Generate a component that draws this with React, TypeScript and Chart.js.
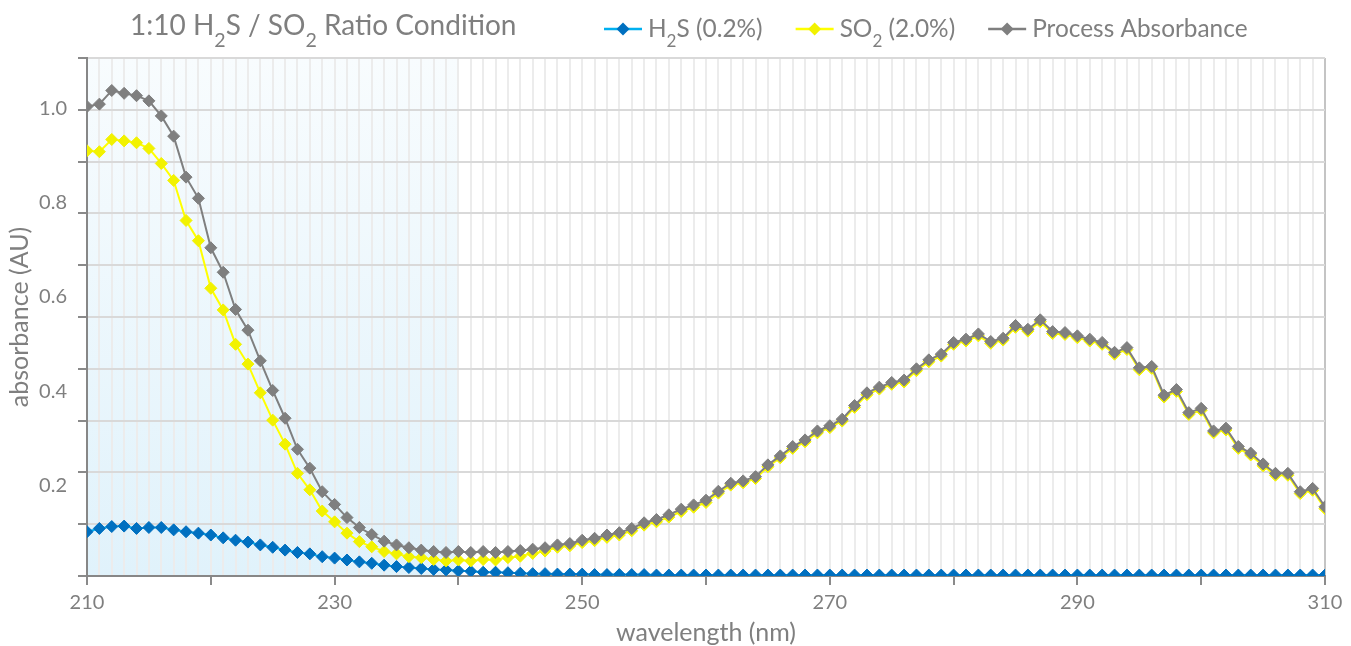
import React, { useEffect, useRef } from 'react';
import { Chart, registerables } from 'chart.js';

Chart.register(...registerables);

// ---------- data ----------
const wavelengths: number[] = Array.from({ length: 101 }, (_, i) => 210 + i);

const h2s: number[] = [
  0.094, 0.101, 0.105, 0.106, 0.101, 0.103, 0.103, 0.098, 0.094, 0.091,
  0.087, 0.081, 0.076, 0.072, 0.066, 0.061, 0.055, 0.050, 0.047, 0.041,
  0.038, 0.034, 0.030, 0.027, 0.023, 0.020, 0.018, 0.016, 0.014, 0.013,
  0.011, 0.010, 0.008, 0.008, 0.007, 0.006, 0.005, 0.005, 0.004, 0.004,
  0.004, 0.003, 0.003, 0.003, 0.003, 0.003, 0.002, 0.002, 0.002, 0.002,
  0.002, 0.002, 0.002, 0.002, 0.002, 0.002, 0.002, 0.002, 0.002, 0.002,
  0.002, 0.002, 0.002, 0.002, 0.002, 0.002, 0.002, 0.002, 0.002, 0.002,
  0.002, 0.002, 0.002, 0.002, 0.002, 0.002, 0.002, 0.002, 0.002, 0.002,
  0.002, 0.002, 0.002, 0.002, 0.002, 0.002, 0.002, 0.002, 0.002, 0.002,
  0.002, 0.002, 0.002, 0.002, 0.002, 0.002, 0.002, 0.002, 0.002, 0.002,
  0.002,
];

const so2: number[] = [
  0.903, 0.901, 0.927, 0.924, 0.920, 0.908, 0.876, 0.840, 0.755, 0.712,
  0.611, 0.565, 0.492, 0.450, 0.389, 0.331, 0.280, 0.218, 0.183, 0.138,
  0.115, 0.091, 0.073, 0.062, 0.052, 0.047, 0.041, 0.039, 0.035, 0.032,
  0.034, 0.032, 0.035, 0.034, 0.039, 0.042, 0.048, 0.053, 0.061, 0.064,
  0.071, 0.075, 0.082, 0.087, 0.096, 0.108, 0.115, 0.125, 0.137, 0.146,
  0.156, 0.176, 0.193, 0.198, 0.207, 0.232, 0.251, 0.271, 0.285, 0.304,
  0.315, 0.329, 0.358, 0.385, 0.397, 0.407, 0.412, 0.436, 0.455, 0.467,
  0.492, 0.499, 0.510, 0.494, 0.501, 0.528, 0.520, 0.540, 0.515, 0.513,
  0.506, 0.499, 0.492, 0.471, 0.481, 0.438, 0.441, 0.380, 0.392, 0.343,
  0.352, 0.304, 0.310, 0.271, 0.257, 0.234, 0.214, 0.214, 0.175, 0.182,
  0.143,
];

const processAbs: number[] = [
  0.997, 1.002, 1.031, 1.025, 1.020, 1.009, 0.977, 0.934, 0.847, 0.802,
  0.697, 0.645, 0.566, 0.522, 0.457, 0.394, 0.335, 0.269, 0.229, 0.179,
  0.152, 0.124, 0.103, 0.088, 0.074, 0.066, 0.060, 0.055, 0.052, 0.050,
  0.052, 0.050, 0.052, 0.050, 0.052, 0.054, 0.057, 0.060, 0.066, 0.069,
  0.076, 0.080, 0.087, 0.092, 0.101, 0.113, 0.120, 0.130, 0.142, 0.151,
  0.161, 0.180, 0.197, 0.202, 0.211, 0.236, 0.255, 0.275, 0.289, 0.308,
  0.319, 0.333, 0.362, 0.389, 0.401, 0.411, 0.416, 0.440, 0.459, 0.471,
  0.496, 0.503, 0.514, 0.498, 0.505, 0.532, 0.524, 0.544, 0.519, 0.517,
  0.510, 0.503, 0.496, 0.475, 0.485, 0.442, 0.445, 0.384, 0.396, 0.347,
  0.356, 0.308, 0.314, 0.275, 0.261, 0.238, 0.218, 0.218, 0.179, 0.186,
  0.147,
];

const xTickLabels: number[] = [210, 230, 250, 270, 290, 310];
const xTickMarks: number[] = [210, 220, 230, 240, 250, 260, 270, 280, 290, 300, 310];
const yTickLabels: number[] = [0.2, 0.4, 0.6, 0.8, 1.0];
const yGridLines: number[] = [0, 0.11, 0.22, 0.33, 0.44, 0.55, 0.66, 0.77, 0.88, 0.99, 1.1];
const shadeRange: number[] = [210, 240];

type Part = [string, boolean];
const titleParts: Part[] = [['1:10 H', false], ['2', true], ['S / SO', false], ['2', true], [' Ratio Condition', false]];
const legendParts: Part[][] = [
  [['H', false], ['2', true], ['S (0.2%)', false]],
  [['SO', false], ['2', true], [' (2.0%)', false]],
  [['Process Absorbance', false]],
];

const FONT = "Lato, 'Open Sans', sans-serif";
const TEXT = '#7f7f7f';
const CLEAR = 'rgba(0,0,0,0)';

function drawRich(ctx: CanvasRenderingContext2D, parts: Part[], x: number, y: number, size: number) {
  let cx = x;
  ctx.textAlign = 'left';
  ctx.textBaseline = 'alphabetic';
  ctx.fillStyle = TEXT;
  for (const [t, sub] of parts) {
    const fs = sub ? size * 0.7 : size;
    ctx.font = `${fs}px ${FONT}`;
    ctx.fillText(t, cx, sub ? y + size * 0.43 : y);
    cx += ctx.measureText(t).width;
  }
  return cx;
}

function diamond(ctx: CanvasRenderingContext2D, x: number, y: number, r: number, color: string) {
  ctx.beginPath();
  ctx.moveTo(x - r, y);
  ctx.lineTo(x, y - r);
  ctx.lineTo(x + r, y);
  ctx.lineTo(x, y + r);
  ctx.closePath();
  ctx.fillStyle = color;
  ctx.fill();
}

const shadePlugin = {
  id: 'shade',
  beforeDraw(chart: any) {
    const { ctx, chartArea, scales } = chart;
    const x0 = scales.x.getPixelForValue(shadeRange[0]);
    const x1 = scales.x.getPixelForValue(shadeRange[1]);
    const g = ctx.createLinearGradient(0, chartArea.top, 0, chartArea.bottom);
    g.addColorStop(0, '#f8fcfe');
    g.addColorStop(1, '#e0f2fb');
    ctx.save();
    ctx.fillStyle = g;
    ctx.fillRect(x0, chartArea.top, x1 - x0, chartArea.bottom - chartArea.top);
    ctx.restore();
  },
};

const headerPlugin = {
  id: 'header',
  afterDraw(chart: any) {
    const ctx: CanvasRenderingContext2D = chart.ctx;
    ctx.save();
    drawRich(ctx, titleParts, 130, 35, 28);
    let x = 604;
    const ly = 29;
    chart.data.datasets.forEach((ds: any, i: number) => {
      ctx.strokeStyle = ds.borderColor;
      ctx.lineWidth = 2.5;
      ctx.beginPath();
      ctx.moveTo(x, ly);
      ctx.lineTo(x + 38, ly);
      ctx.stroke();
      diamond(ctx, x + 19, ly, 6.5, ds.pointBackgroundColor);
      const end = drawRich(ctx, legendParts[i], x + 44, 37, 24.4);
      x = end + 33;
    });
    ctx.restore();
  },
};

export default function App() {
  const ref = useRef<HTMLCanvasElement | null>(null);

  useEffect(() => {
    if (!ref.current) return;
    const mk = (arr: number[]) => wavelengths.map((w, i) => ({ x: w, y: arr[i] }));
    const common = {
      pointStyle: 'rectRot',
      pointRadius: 6,
      pointBorderWidth: 1,
      borderWidth: 2,
    };
    const chart = new Chart(ref.current, {
      type: 'line',
      data: {
        datasets: [
          {
            ...common,
            label: 'H2S (0.2%)',
            data: mk(h2s),
            borderColor: '#00b0f0',
            backgroundColor: '#0070c0',
            pointBackgroundColor: '#0070c0',
            pointBorderColor: '#0070c0',
            order: 3,
          },
          {
            ...common,
            label: 'SO2 (2.0%)',
            data: mk(so2),
            borderColor: '#ffff00',
            backgroundColor: '#f2f200',
            pointBackgroundColor: '#f2f200',
            pointBorderColor: '#f2f200',
            order: 2,
          },
          {
            ...common,
            label: 'Process Absorbance',
            data: mk(processAbs),
            borderColor: '#7f7f7f',
            backgroundColor: '#7f7f7f',
            pointBackgroundColor: '#7f7f7f',
            pointBorderColor: '#7f7f7f',
            order: 1,
          },
        ],
      },
      options: {
        responsive: true,
        maintainAspectRatio: false,
        animation: false,
        layout: { padding: { top: 58, right: 26, bottom: 0, left: 0 } },
        plugins: {
          legend: { display: false },
          title: { display: false },
          tooltip: { enabled: false },
        },
        scales: {
          x: {
            type: 'linear',
            min: 210,
            max: 310,
            afterBuildTicks: (s: any) => {
              s.ticks = wavelengths.map((v) => ({ value: v }));
            },
            afterFit: (s: any) => {
              s.height = 70;
            },
            grid: {
              color: (c: any) => (c.tick && c.tick.value === 310 ? '#c4c4c4' : '#ececec'),
              lineWidth: 2,
              tickLength: 9,
              tickWidth: 2,
              tickColor: (c: any) => (c.tick && xTickMarks.includes(c.tick.value) ? '#8a8a8a' : CLEAR),
            },
            border: { color: '#878787', width: 2 },
            ticks: {
              autoSkip: false,
              maxRotation: 0,
              padding: 6,
              color: TEXT,
              font: { family: FONT, size: 20 },
              callback: (v: any) => (xTickLabels.includes(Number(v)) ? String(v) : ''),
            },
            title: {
              display: true,
              text: 'wavelength (nm)',
              color: TEXT,
              font: { family: FONT, size: 25, lineHeight: 1.04 },
              padding: { top: 0, bottom: 0 },
            },
          },
          y: {
            type: 'linear',
            min: 0,
            max: 1.1,
            afterBuildTicks: (s: any) => {
              const t = [
                ...yGridLines.map((v) => ({ value: v, kind: 'grid' })),
                ...yTickLabels.map((v) => ({ value: v, kind: 'label' })),
              ];
              t.sort((a, b) => a.value - b.value);
              s.ticks = t;
            },
            afterFit: (s: any) => {
              s.width = 87;
            },
            grid: {
              color: (c: any) => (c.tick && c.tick.kind === 'grid' ? '#d9d9d9' : CLEAR),
              lineWidth: 2,
              tickLength: 9,
              tickWidth: 2,
              tickColor: (c: any) => (c.tick && c.tick.kind === 'grid' ? '#8a8a8a' : CLEAR),
            },
            border: { color: '#878787', width: 2 },
            ticks: {
              autoSkip: false,
              padding: 11,
              labelOffset: 3.5,
              color: TEXT,
              font: { family: FONT, size: 20 },
              callback: (v: any, i: number, ticks: any[]) =>
                ticks[i] && ticks[i].kind === 'label' ? Number(v).toFixed(1) : '',
            },
            title: {
              display: true,
              text: 'absorbance (AU)',
              color: TEXT,
              font: { family: FONT, size: 25, lineHeight: 1.6 },
              padding: { top: 0, bottom: 0 },
            },
          },
        },
      } as any,
      plugins: [shadePlugin, headerPlugin],
    });
    return () => chart.destroy();
  }, []);

  return (
    <div style={{ position: 'fixed', left: 0, top: 0, width: 1351, height: 646, background: '#ffffff' }}>
      <canvas ref={ref} />
    </div>
  );
}
